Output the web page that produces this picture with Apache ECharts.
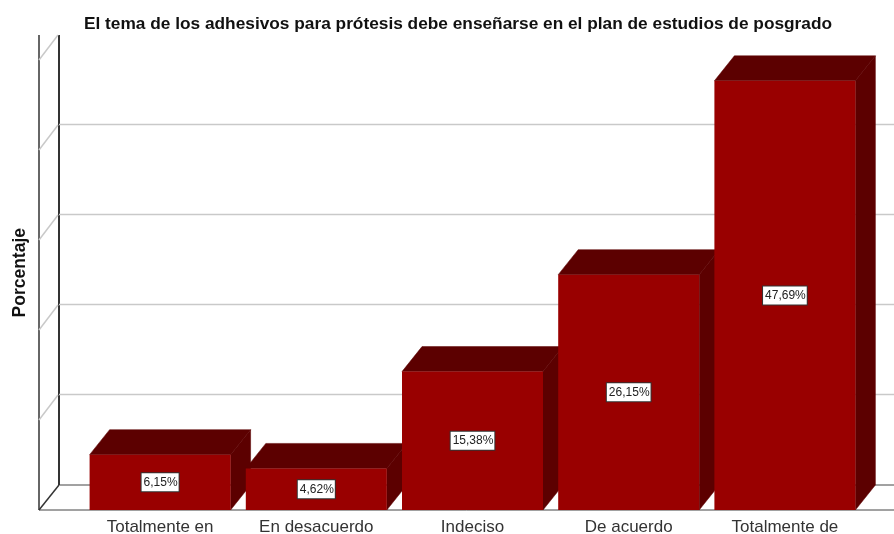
<!DOCTYPE html>
<html>
<head>
<meta charset="utf-8">
<style>html,body{margin:0;padding:0;background:#fff}#chart{width:894px;height:534px}</style>
<script src="https://cdn.jsdelivr.net/npm/echarts@6/dist/echarts.min.js"></script>
</head>
<body>
<div id="chart"></div>
<script>
const chartTitle = 'El tema de los adhesivos para prótesis debe enseñarse en el plan de estudios de posgrado';
const categories = ['Totalmente en', 'En desacuerdo', 'Indeciso', 'De acuerdo', 'Totalmente de'];
const percentages = [6.15, 4.62, 15.38, 26.15, 47.69];
const yTicks = [0, 10, 20, 30, 40, 50];

// Oblique offset of the pseudo-3D box and walls
const DEPTH_X = 20;
const DEPTH_Y = 25;
const WALL_INSET = 43;   // distance from the plot area to the front-left corner
const BAR_WIDTH = 141;

const FRONT = '#990000';
const SHADE = '#5c0000';
const GRID = '#c9c9c9';
const AXIS = '#333333';

function seg(x1, y1, x2, y2, stroke, width) {
  return { type: 'line', shape: { x1, y1, x2, y2 }, style: { stroke, lineWidth: width || 1 } };
}

// Back wall, side wall and floor, one call per tick value
function renderWall(params, api) {
  const v = api.value(0);
  const y = api.coord([0, v])[1];
  const sys = params.coordSys;
  const frontX = sys.x - WALL_INSET;
  const backX = frontX + DEPTH_X;
  const right = api.getWidth();
  const children = [];
  if (v === 0) {
    const topY = api.coord([0, yTicks[yTicks.length - 1]])[1] - DEPTH_Y;
    children.push(seg(backX + 0.5, y - DEPTH_Y, right, y - DEPTH_Y, '#444444'));
    children.push(seg(frontX, y, right, y, '#444444'));
    children.push(seg(frontX, y, backX, y - DEPTH_Y, AXIS, 1.5));
    children.push(seg(frontX, topY, frontX, y, AXIS, 1.5));
    children.push(seg(backX, topY, backX, y - DEPTH_Y, AXIS, 2));
  } else {
    if (v !== yTicks[yTicks.length - 1]) {
      children.push(seg(backX, y - DEPTH_Y - 0.5, right, y - DEPTH_Y - 0.5, GRID, 1.5));
    }
    children.push(seg(frontX, y, backX - 1, y - DEPTH_Y, GRID, 1.5));
  }
  return { type: 'group', children };
}

// Front face, top face, side face and the value tag of one bar
function renderBar(params, api) {
  const i = api.value(0);
  const v = api.value(1);
  const top = api.coord([i, v]);
  const base = api.coord([i, 0]);
  const l = top[0] - BAR_WIDTH / 2;
  const r = top[0] + BAR_WIDTH / 2;
  const t = top[1];
  const b = base[1];
  const poly = (points, fill) => ({ type: 'polygon', shape: { points }, style: { fill, stroke: fill, lineWidth: 0.5 } });
  return {
    type: 'group',
    children: [
      poly([[r, t], [r + DEPTH_X, t - DEPTH_Y], [r + DEPTH_X, b - DEPTH_Y], [r, b]], SHADE),
      poly([[l, t], [l + DEPTH_X, t - DEPTH_Y], [r + DEPTH_X, t - DEPTH_Y], [r, t]], SHADE),
      { type: 'rect', shape: { x: l, y: t, width: r - l, height: b - t }, style: { fill: FRONT } },
      {
        type: 'text',
        x: top[0],
        y: (t + b) / 2,
        style: {
          text: v.toFixed(2).replace('.', ',') + '%',
          fill: '#222222',
          font: '12px "Liberation Sans", Arial, sans-serif',
          align: 'center',
          verticalAlign: 'middle',
          backgroundColor: '#ffffff',
          borderColor: '#333333',
          borderWidth: 1,
          padding: [3, 1, 3, 2]
        }
      }
    ]
  };
}

const chart = echarts.init(document.getElementById('chart'), null, { renderer: 'canvas' });
chart.setOption({
  animation: false,
  backgroundColor: '#ffffff',
  title: {
    text: chartTitle,
    left: 453,
    top: 11,
    textAlign: 'center',
    textStyle: { fontFamily: '"Liberation Sans", Arial, sans-serif', fontSize: 17.3, fontWeight: 'bold', color: '#111111' }
  },
  grid: { left: 82, right: 31, top: 60, bottom: 24, outerBoundsMode: 'none' },
  xAxis: {
    type: 'category',
    data: categories,
    axisLine: { show: false },
    axisTick: { show: false },
    axisLabel: {
      fontFamily: '"Liberation Sans", Arial, sans-serif',
      fontSize: 17,
      color: '#333333',
      margin: 9,
      interval: 0
    }
  },
  yAxis: {
    type: 'value',
    min: yTicks[0],
    max: yTicks[yTicks.length - 1],
    interval: 10,
    axisLine: { show: false },
    axisTick: { show: false },
    axisLabel: { show: false },
    splitLine: { show: false }
  },
  graphic: [{
    type: 'text',
    left: 11,
    top: 228,
    rotation: Math.PI / 2,
    style: {
      text: 'Porcentaje',
      fill: '#111111',
      font: 'bold 17.5px "Liberation Sans", Arial, sans-serif'
    }
  }],
  series: [
    {
      type: 'custom',
      silent: true,
      z: 1,
      clip: false,
      coordinateSystem: 'cartesian2d',
      renderItem: renderWall,
      encode: { y: 0 },
      data: yTicks.map(v => [v])
    },
    {
      type: 'custom',
      silent: true,
      z: 2,
      clip: false,
      coordinateSystem: 'cartesian2d',
      renderItem: renderBar,
      encode: { x: 0, y: 1 },
      data: percentages.map((v, i) => [i, v])
    }
  ]
});
</script>
</body>
</html>
